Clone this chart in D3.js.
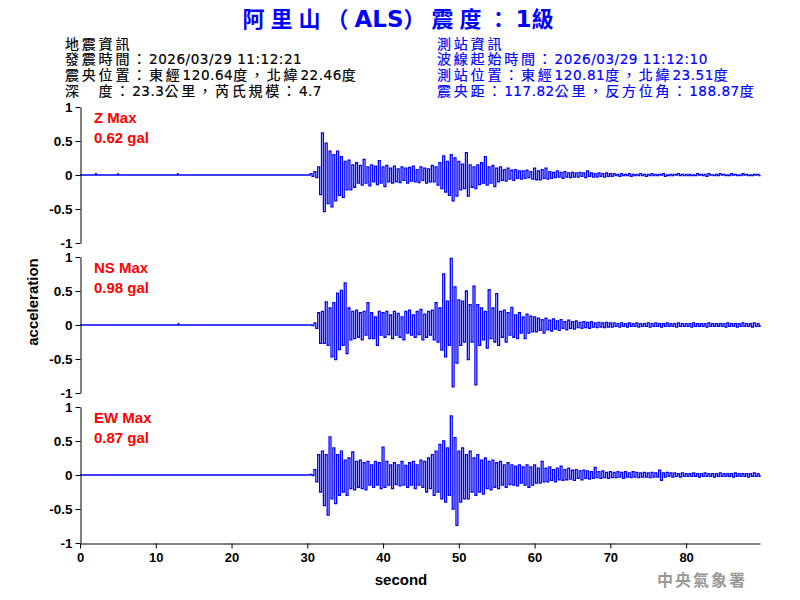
<!DOCTYPE html>
<html>
<head>
<meta charset="utf-8">
<script src="https://cdn.jsdelivr.net/npm/d3@7"></script>
<style>
  html, body { margin: 0; padding: 0; background: #fff; }
  svg { display: block; }
  text { font-family: Arial, "Liberation Sans", "Noto Sans CJK TC", sans-serif; }
</style>
</head>
<body>
<svg id="chart" width="800" height="600"></svg>
<script>
// ---------------- DATA ----------------
const titleParts = ["阿里山（", "ALS", "）震度：", "1", "級"];
const quakeInfo = [
  "地震資訊",
  "發震時間：2026/03/29 11:12:21",
  "震央位置：東經120.64度，北緯22.46度",
  "深　度：23.3公里，芮氏規模：4.7"
];
const stationInfo = [
  "測站資訊",
  "波線起始時間：2026/03/29 11:12:10",
  "測站位置：東經120.81度，北緯23.51度",
  "震央距：117.82公里，反方位角：188.87度"
];
const components = ["Z", "NS", "EW"];
const maxLabels = ["0.62 gal", "0.98 gal", "0.87 gal"];
const yTicks = [-1, -0.5, 0, 0.5, 1];
const xTicks = [0, 10, 20, 30, 40, 50, 60, 70, 80];
const xLabel = "second";
const yLabel = "acceleration";
const agency = "中央氣象署";

// envelope samples every 0.5 s starting at 30.5 s (upper / lower excursions)
const sampleStart = 30.5;
const sampleStep = 0.5;
const traceEnd = 89.75;

const zHi = [
  0.02,0.05,0.12,0.62,0.47,0.35,0.30,0.35,0.27,0.20,
  0.22,0.15,0.18,0.14,0.23,0.12,0.15,0.13,0.21,0.12,
  0.14,0.10,0.13,0.09,0.12,0.10,0.11,0.13,0.08,0.12,
  0.10,0.09,0.14,0.12,0.18,0.28,0.20,0.30,0.25,0.20,
  0.16,0.33,0.15,0.12,0.15,0.18,0.27,0.12,0.14,0.10,
  0.12,0.08,0.10,0.07,0.08,0.06,0.06,0.07,0.05,0.10,
  0.06,0.08,0.10,0.05,0.04,0.06,0.04,0.05,0.03,0.04,
  0.03,0.04,0.03,0.06,0.03,0.02,0.03,0.02,0.03,0.02,
  0.02,0.01,0.02,0.01,0.02,0.01,0.01,0.02,0.01,0.01,
  0.02,0.01,0.01,0.02,0.00,0.01,0.01,0.02,0.01,0.01,
  0.01,0.00,0.02,0.01,0.01,0.02,0.00,0.01,0.02,0.01,
  0.00,0.02,0.01,0.00,0.02,0.01,0.00,0.01,0.01
];
const zLo = [
  -0.02,-0.04,-0.29,-0.54,-0.42,-0.47,-0.38,-0.30,-0.33,-0.22,
  -0.22,-0.18,-0.12,-0.15,-0.12,-0.16,-0.10,-0.14,-0.12,-0.17,
  -0.10,-0.12,-0.10,-0.11,-0.08,-0.12,-0.09,-0.10,-0.11,-0.08,
  -0.12,-0.10,-0.10,-0.15,-0.20,-0.25,-0.30,-0.38,-0.31,-0.22,
  -0.20,-0.31,-0.18,-0.20,-0.14,-0.12,-0.15,-0.12,-0.17,-0.10,
  -0.08,-0.09,-0.06,-0.08,-0.05,-0.06,-0.05,-0.04,-0.06,-0.07,
  -0.07,-0.05,-0.06,-0.05,-0.04,-0.03,-0.05,-0.03,-0.04,-0.03,
  -0.03,-0.02,-0.04,-0.02,-0.03,-0.03,-0.02,-0.03,-0.02,-0.02,
  -0.01,-0.02,-0.01,-0.01,-0.02,-0.01,-0.01,-0.01,-0.02,-0.01,
  -0.01,-0.01,-0.00,-0.02,-0.01,-0.01,-0.00,-0.01,-0.01,-0.01,
  -0.01,-0.01,-0.00,-0.01,-0.02,-0.00,-0.01,-0.01,-0.00,-0.01,
  -0.01,-0.00,-0.01,-0.01,-0.00,-0.01,-0.01,-0.00,-0.01
];
const nsHi = [
  0.00,0.03,0.18,0.20,0.34,0.25,0.33,0.47,0.51,0.62,
  0.25,0.20,0.22,0.18,0.20,0.33,0.18,0.12,0.20,0.18,
  0.20,0.15,0.20,0.17,0.12,0.20,0.22,0.15,0.20,0.23,
  0.16,0.20,0.22,0.33,0.25,0.75,0.35,0.98,0.56,0.37,
  0.35,0.50,0.30,0.57,0.30,0.25,0.20,0.52,0.25,0.46,
  0.20,0.22,0.18,0.26,0.15,0.18,0.12,0.16,0.13,0.12,
  0.10,0.08,0.10,0.07,0.09,0.06,0.08,0.05,0.07,0.05,
  0.06,0.04,0.05,0.04,0.05,0.03,0.04,0.03,0.04,0.03,
  0.03,0.02,0.03,0.02,0.03,0.02,0.03,0.02,0.02,0.03,
  0.02,0.03,0.02,0.02,0.03,0.02,0.02,0.03,0.02,0.02,
  0.02,0.03,0.02,0.02,0.02,0.03,0.02,0.02,0.02,0.02,
  0.03,0.02,0.02,0.02,0.03,0.02,0.02,0.03,0.02
];
const nsLo = [
  -0.01,-0.05,-0.27,-0.27,-0.30,-0.47,-0.51,-0.36,-0.30,-0.42,
  -0.22,-0.20,-0.18,-0.22,-0.15,-0.20,-0.20,-0.30,-0.15,-0.18,
  -0.14,-0.20,-0.15,-0.18,-0.22,-0.12,-0.15,-0.18,-0.14,-0.22,
  -0.18,-0.15,-0.22,-0.25,-0.37,-0.47,-0.30,-0.91,-0.56,-0.30,
  -0.25,-0.51,-0.25,-0.88,-0.30,-0.22,-0.34,-0.20,-0.25,-0.30,
  -0.18,-0.25,-0.15,-0.18,-0.20,-0.12,-0.20,-0.12,-0.10,-0.10,
  -0.08,-0.12,-0.07,-0.09,-0.06,-0.08,-0.05,-0.07,-0.05,-0.06,
  -0.04,-0.05,-0.04,-0.05,-0.03,-0.04,-0.03,-0.04,-0.03,-0.03,
  -0.02,-0.03,-0.02,-0.03,-0.02,-0.02,-0.03,-0.02,-0.02,-0.03,
  -0.02,-0.02,-0.03,-0.02,-0.02,-0.02,-0.03,-0.02,-0.02,-0.02,
  -0.03,-0.02,-0.02,-0.02,-0.03,-0.02,-0.02,-0.02,-0.02,-0.03,
  -0.02,-0.02,-0.03,-0.02,-0.02,-0.02,-0.03,-0.02,-0.02
];
const ewHi = [
  0.01,0.08,0.30,0.35,0.30,0.56,0.40,0.30,0.35,0.22,
  0.25,0.34,0.20,0.22,0.18,0.20,0.15,0.20,0.18,0.41,
  0.20,0.15,0.18,0.15,0.20,0.14,0.18,0.20,0.15,0.22,
  0.20,0.25,0.30,0.35,0.45,0.50,0.40,0.87,0.55,0.35,
  0.40,0.30,0.35,0.25,0.30,0.22,0.25,0.20,0.22,0.18,
  0.20,0.15,0.18,0.15,0.13,0.15,0.12,0.15,0.12,0.15,
  0.10,0.20,0.10,0.12,0.08,0.10,0.13,0.08,0.10,0.07,
  0.08,0.06,0.07,0.06,0.05,0.11,0.05,0.06,0.04,0.05,
  0.04,0.05,0.04,0.05,0.03,0.05,0.04,0.03,0.04,0.03,
  0.04,0.03,0.07,0.03,0.04,0.03,0.03,0.02,0.03,0.02,
  0.02,0.03,0.02,0.02,0.03,0.02,0.02,0.02,0.03,0.02,
  0.02,0.02,0.03,0.02,0.02,0.02,0.02,0.03,0.02
];
const ewLo = [
  -0.01,-0.10,-0.25,-0.45,-0.59,-0.35,-0.42,-0.30,-0.25,-0.30,
  -0.20,-0.22,-0.18,-0.20,-0.22,-0.15,-0.18,-0.15,-0.20,-0.18,
  -0.15,-0.20,-0.14,-0.16,-0.15,-0.18,-0.15,-0.20,-0.15,-0.18,
  -0.25,-0.20,-0.30,-0.25,-0.35,-0.40,-0.30,-0.50,-0.74,-0.40,
  -0.35,-0.35,-0.25,-0.30,-0.25,-0.28,-0.20,-0.22,-0.18,-0.20,
  -0.15,-0.18,-0.14,-0.15,-0.16,-0.12,-0.15,-0.18,-0.15,-0.12,
  -0.12,-0.10,-0.10,-0.08,-0.10,-0.07,-0.08,-0.07,-0.06,-0.08,
  -0.05,-0.07,-0.05,-0.06,-0.05,-0.04,-0.05,-0.04,-0.05,-0.04,
  -0.04,-0.03,-0.05,-0.03,-0.04,-0.03,-0.04,-0.03,-0.03,-0.04,
  -0.03,-0.03,-0.08,-0.03,-0.02,-0.03,-0.02,-0.03,-0.02,-0.02,
  -0.02,-0.02,-0.03,-0.02,-0.02,-0.02,-0.03,-0.02,-0.02,-0.02,
  -0.02,-0.03,-0.02,-0.02,-0.02,-0.03,-0.02,-0.02,-0.02
];
// small pre-event blips (time, value)
const zBlipT = [2.1, 5.0, 12.9];
const zBlipV = [0.02, 0.015, 0.02];
const nsBlipT = [13.0];
const nsBlipV = [0.02];
const ewBlipT = [];
const ewBlipV = [];

// ---------------- DRAW ----------------
const svg = d3.select("#chart");
svg.append("rect").attr("width", 800).attr("height", 600).attr("fill", "#fff");

const left = 80, right = 760;
const panelTops = [107, 257, 407];
const panelH = 136;

const x = d3.scaleLinear().domain([0, traceEnd]).range([left, right]);

// title
const title = svg.append("text")
  .attr("x", 401).attr("y", 27)
  .attr("text-anchor", "middle")
  .attr("fill", "#0000ff")
  .attr("font-weight", "bold");
title.selectAll("tspan").data(titleParts).join("tspan")
  .attr("letter-spacing", (d, i) => (i % 2 === 0 ? 6 : 0))
  .attr("font-size", (d, i) => (i % 2 === 0 ? 22 : 23))
  .attr("font-family", (d, i) => (i % 2 === 0 ? "'Noto Sans CJK TC', sans-serif" : "'DejaVu Sans', Arial, sans-serif"))
  .text(d => d);

// info blocks: CJK runs spaced wider, Latin runs in DejaVu Sans
const runRe = /[\u3000-\u9fff\uff00-\uffef]+|[^\u3000-\u9fff\uff00-\uffef]+/g;
const isCJK = s => /[\u3000-\u9fff\uff00-\uffef]/.test(s);
function infoBlock(lines, x0, color) {
  const infoY = [48.5, 64.3, 80.1, 95.9];
  const g = svg.append("g");
  g.selectAll("text").data(lines).join("text")
    .attr("x", x0).attr("y", (d, i) => infoY[i])
    .attr("fill", color).attr("stroke", color).attr("stroke-width", 0.2)
    .attr("font-size", 13.6)
    .each(function(d) {
      d3.select(this).selectAll("tspan").data(d.match(runRe)).join("tspan")
        .attr("letter-spacing", s => isCJK(s) ? 2.8 : 0.5)
        .attr("font-size", s => isCJK(s) ? 14 : 13.6)
        .attr("font-family", s => isCJK(s) ? "Arial, 'Noto Sans CJK TC', sans-serif" : "'DejaVu Sans', sans-serif")
        .text(s => s);
    });
}
infoBlock(quakeInfo, 65, "#000");
infoBlock(stationInfo, 437, "#0000ff");

const traces = [
  {hi: zHi, lo: zLo, bt: zBlipT, bv: zBlipV},
  {hi: nsHi, lo: nsLo, bt: nsBlipT, bv: nsBlipV},
  {hi: ewHi, lo: ewLo, bt: ewBlipT, bv: ewBlipV}
];

components.forEach((comp, k) => {
  const top = panelTops[k];
  const y = d3.scaleLinear().domain([-1, 1]).range([top + panelH, top]);
  const g = svg.append("g");

  // trace
  const tr = traces[k];
  const pts = [[0, 0]];
  tr.bt.forEach((t, j) => { pts.push([t - 0.07, 0], [t, tr.bv[j]], [t + 0.07, 0]); });
  pts.push([sampleStart - sampleStep / 2, 0]);
  tr.hi.forEach((v, i) => {
    const t0 = sampleStart + i * sampleStep;
    pts.push([t0, v], [t0 + sampleStep / 2, tr.lo[i]]);
  });
  pts.push([traceEnd, 0]);
  g.append("path")
    .attr("d", d3.line().curve(d3.curveStep).x(d => x(d[0])).y(d => y(d[1]))(pts))
    .attr("fill", "none").attr("stroke", "#0000ff").attr("stroke-width", 1.3);

  // y axis
  const ya = g.append("g").attr("transform", `translate(${left + 0.5},0)`)
    .call(d3.axisLeft(y).tickValues(yTicks).tickFormat(d => String(d)).tickSize(5).tickSizeOuter(0).tickPadding(3));
  ya.selectAll("text").attr("font-size", 13.5).attr("font-weight", "bold").attr("fill", "#000")
    .attr("font-family", "Arial, 'Liberation Sans', sans-serif");
  ya.selectAll("path, line").attr("stroke", "#000");

  // labels
  g.append("text").attr("x", 94).attr("y", top + 16)
    .attr("fill", "#ff0000").attr("font-size", 15).attr("font-weight", "bold")
    .text(comp + " Max");
  g.append("text").attr("x", 94).attr("y", top + 36)
    .attr("fill", "#ff0000").attr("font-size", 15).attr("font-weight", "bold")
    .text(maxLabels[k]);
});

// x axis
const xa = svg.append("g").attr("transform", `translate(0,${panelTops[2] + panelH + 0.5})`)
  .call(d3.axisBottom(x).tickValues(xTicks).tickFormat(d3.format("d")).tickSize(5).tickSizeOuter(0).tickPadding(4));
xa.selectAll("text").attr("font-size", 13).attr("font-weight", "bold").attr("fill", "#000")
  .attr("font-family", "Arial, 'Liberation Sans', sans-serif");
xa.selectAll("path, line").attr("stroke", "#000");

svg.append("text").attr("x", 401).attr("y", 585)
  .attr("text-anchor", "middle").attr("font-size", 15).attr("font-weight", "bold")
  .text(xLabel);
svg.append("text")
  .attr("transform", "translate(38,302) rotate(-90)")
  .attr("text-anchor", "middle").attr("font-size", 15).attr("font-weight", "bold")
  .text(yLabel);

svg.append("text").attr("x", 657).attr("y", 586)
  .attr("font-size", 16).attr("fill", "#999").attr("letter-spacing", 2)
  .attr("font-family", "'Noto Sans CJK TC', sans-serif").attr("font-weight", "bold")
  .text(agency);
</script>
</body>
</html>
